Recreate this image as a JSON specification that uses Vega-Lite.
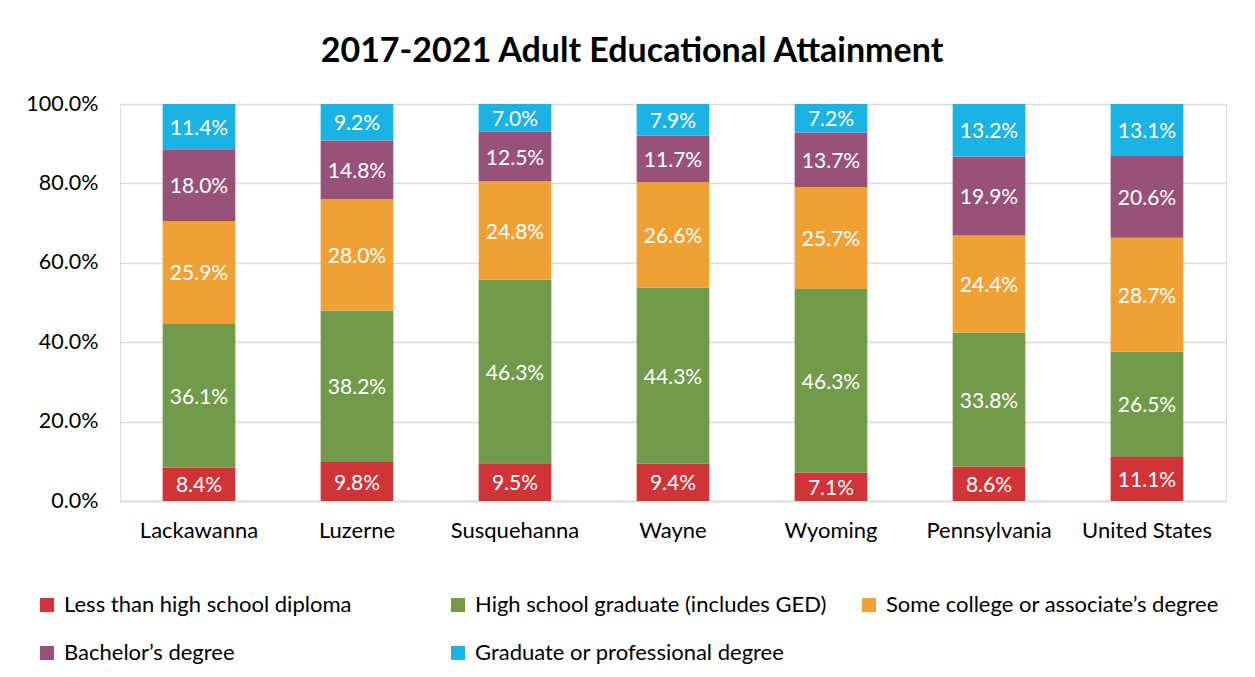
{
  "$schema": "https://vega.github.io/schema/vega-lite/v6.json",
  "width": 1106,
  "height": 397,
  "autosize": {"type": "none"},
  "padding": {"left": 120, "top": 104, "right": 29, "bottom": 176},
  "background": "white",
  "title": {
    "text": "2017-2021 Adult Educational Attainment",
    "font": "Lato",
    "fontSize": 34,
    "fontWeight": "bold",
    "color": "#000000",
    "anchor": "middle",
    "dx": -41,
    "offset": 24
  },
  "data": {
    "values": [
      {"region": "Lackawanna", "level": "Less than high school diploma", "order": 1, "value": 0.084},
      {"region": "Lackawanna", "level": "High school graduate (includes GED)", "order": 2, "value": 0.361},
      {"region": "Lackawanna", "level": "Some college or associate’s degree", "order": 3, "value": 0.259},
      {"region": "Lackawanna", "level": "Bachelor’s degree", "order": 4, "value": 0.180},
      {"region": "Lackawanna", "level": "Graduate or professional degree", "order": 5, "value": 0.114},
      {"region": "Luzerne", "level": "Less than high school diploma", "order": 1, "value": 0.098},
      {"region": "Luzerne", "level": "High school graduate (includes GED)", "order": 2, "value": 0.382},
      {"region": "Luzerne", "level": "Some college or associate’s degree", "order": 3, "value": 0.280},
      {"region": "Luzerne", "level": "Bachelor’s degree", "order": 4, "value": 0.148},
      {"region": "Luzerne", "level": "Graduate or professional degree", "order": 5, "value": 0.092},
      {"region": "Susquehanna", "level": "Less than high school diploma", "order": 1, "value": 0.095},
      {"region": "Susquehanna", "level": "High school graduate (includes GED)", "order": 2, "value": 0.463},
      {"region": "Susquehanna", "level": "Some college or associate’s degree", "order": 3, "value": 0.248},
      {"region": "Susquehanna", "level": "Bachelor’s degree", "order": 4, "value": 0.125},
      {"region": "Susquehanna", "level": "Graduate or professional degree", "order": 5, "value": 0.070},
      {"region": "Wayne", "level": "Less than high school diploma", "order": 1, "value": 0.094},
      {"region": "Wayne", "level": "High school graduate (includes GED)", "order": 2, "value": 0.443},
      {"region": "Wayne", "level": "Some college or associate’s degree", "order": 3, "value": 0.266},
      {"region": "Wayne", "level": "Bachelor’s degree", "order": 4, "value": 0.117},
      {"region": "Wayne", "level": "Graduate or professional degree", "order": 5, "value": 0.079},
      {"region": "Wyoming", "level": "Less than high school diploma", "order": 1, "value": 0.071},
      {"region": "Wyoming", "level": "High school graduate (includes GED)", "order": 2, "value": 0.463},
      {"region": "Wyoming", "level": "Some college or associate’s degree", "order": 3, "value": 0.257},
      {"region": "Wyoming", "level": "Bachelor’s degree", "order": 4, "value": 0.137},
      {"region": "Wyoming", "level": "Graduate or professional degree", "order": 5, "value": 0.072},
      {"region": "Pennsylvania", "level": "Less than high school diploma", "order": 1, "value": 0.086},
      {"region": "Pennsylvania", "level": "High school graduate (includes GED)", "order": 2, "value": 0.338},
      {"region": "Pennsylvania", "level": "Some college or associate’s degree", "order": 3, "value": 0.244},
      {"region": "Pennsylvania", "level": "Bachelor’s degree", "order": 4, "value": 0.199},
      {"region": "Pennsylvania", "level": "Graduate or professional degree", "order": 5, "value": 0.132},
      {"region": "United States", "level": "Less than high school diploma", "order": 1, "value": 0.111},
      {"region": "United States", "level": "High school graduate (includes GED)", "order": 2, "value": 0.265},
      {"region": "United States", "level": "Some college or associate’s degree", "order": 3, "value": 0.287},
      {"region": "United States", "level": "Bachelor’s degree", "order": 4, "value": 0.206},
      {"region": "United States", "level": "Graduate or professional degree", "order": 5, "value": 0.131}
    ]
  },
  "transform": [
    {"stack": "value", "groupby": ["region"], "sort": [{"field": "order"}], "as": ["y0", "y1"], "offset": "normalize"},
    {"calculate": "(datum.y0 + datum.y1) / 2", "as": "ymid"}
  ],
  "encoding": {
    "x": {
      "field": "region",
      "type": "nominal",
      "sort": ["Lackawanna", "Luzerne", "Susquehanna", "Wayne", "Wyoming", "Pennsylvania", "United States"],
      "scale": {"paddingInner": 0.54, "paddingOuter": 0.27},
      "axis": {
        "title": null,
        "labelAngle": 0,
        "labelFont": "Lato",
        "labelFontSize": 22,
        "labelColor": "#000000",
        "labelPadding": 19,
        "ticks": false,
        "domainColor": "#d9d9d9",
        "domainWidth": 1.5
      }
    }
  },
  "layer": [
    {
      "mark": {"type": "bar"},
      "encoding": {
        "y": {
          "field": "y0",
          "type": "quantitative",
          "scale": {"domain": [0, 1], "nice": false},
          "axis": {
            "title": null,
            "format": ".1%",
            "values": [0, 0.2, 0.4, 0.6, 0.8, 1.0],
            "labelFont": "Lato",
            "labelFontSize": 21.5,
            "labelColor": "#000000",
            "labelPadding": 22,
            "ticks": false,
            "domain": false,
            "gridColor": "#d9d9d9",
            "gridWidth": 1.5
          }
        },
        "y2": {"field": "y1"},
        "color": {
          "field": "level",
          "type": "nominal",
          "sort": ["Less than high school diploma", "High school graduate (includes GED)", "Some college or associate’s degree", "Bachelor’s degree", "Graduate or professional degree"],
          "scale": {
            "domain": ["Less than high school diploma", "High school graduate (includes GED)", "Some college or associate’s degree", "Bachelor’s degree", "Graduate or professional degree"],
            "range": ["#D13438", "#719A4A", "#F0A136", "#98527A", "#1BB3E3"]
          },
          "legend": {
            "title": null,
            "orient": "none",
            "legendX": -84,
            "legendY": 490,
            "direction": "horizontal",
            "columns": 3,
            "gridAlign": "all",
            "columnPadding": 31,
            "rowPadding": 26,
            "symbolType": "square",
            "symbolSize": 196,
            "symbolStrokeWidth": 0,
            "labelFont": "Lato",
            "labelFontSize": 22,
            "labelColor": "#000000",
            "labelLimit": 500,
            "labelOffset": 6
          }
        }
      }
    },
    {
      "mark": {"type": "text", "color": "white", "font": "Lato", "fontSize": 21, "baseline": "middle", "dy": 2},
      "encoding": {
        "y": {"field": "ymid", "type": "quantitative"},
        "text": {"field": "value", "type": "quantitative", "format": ".1%"}
      }
    }
  ]
}
